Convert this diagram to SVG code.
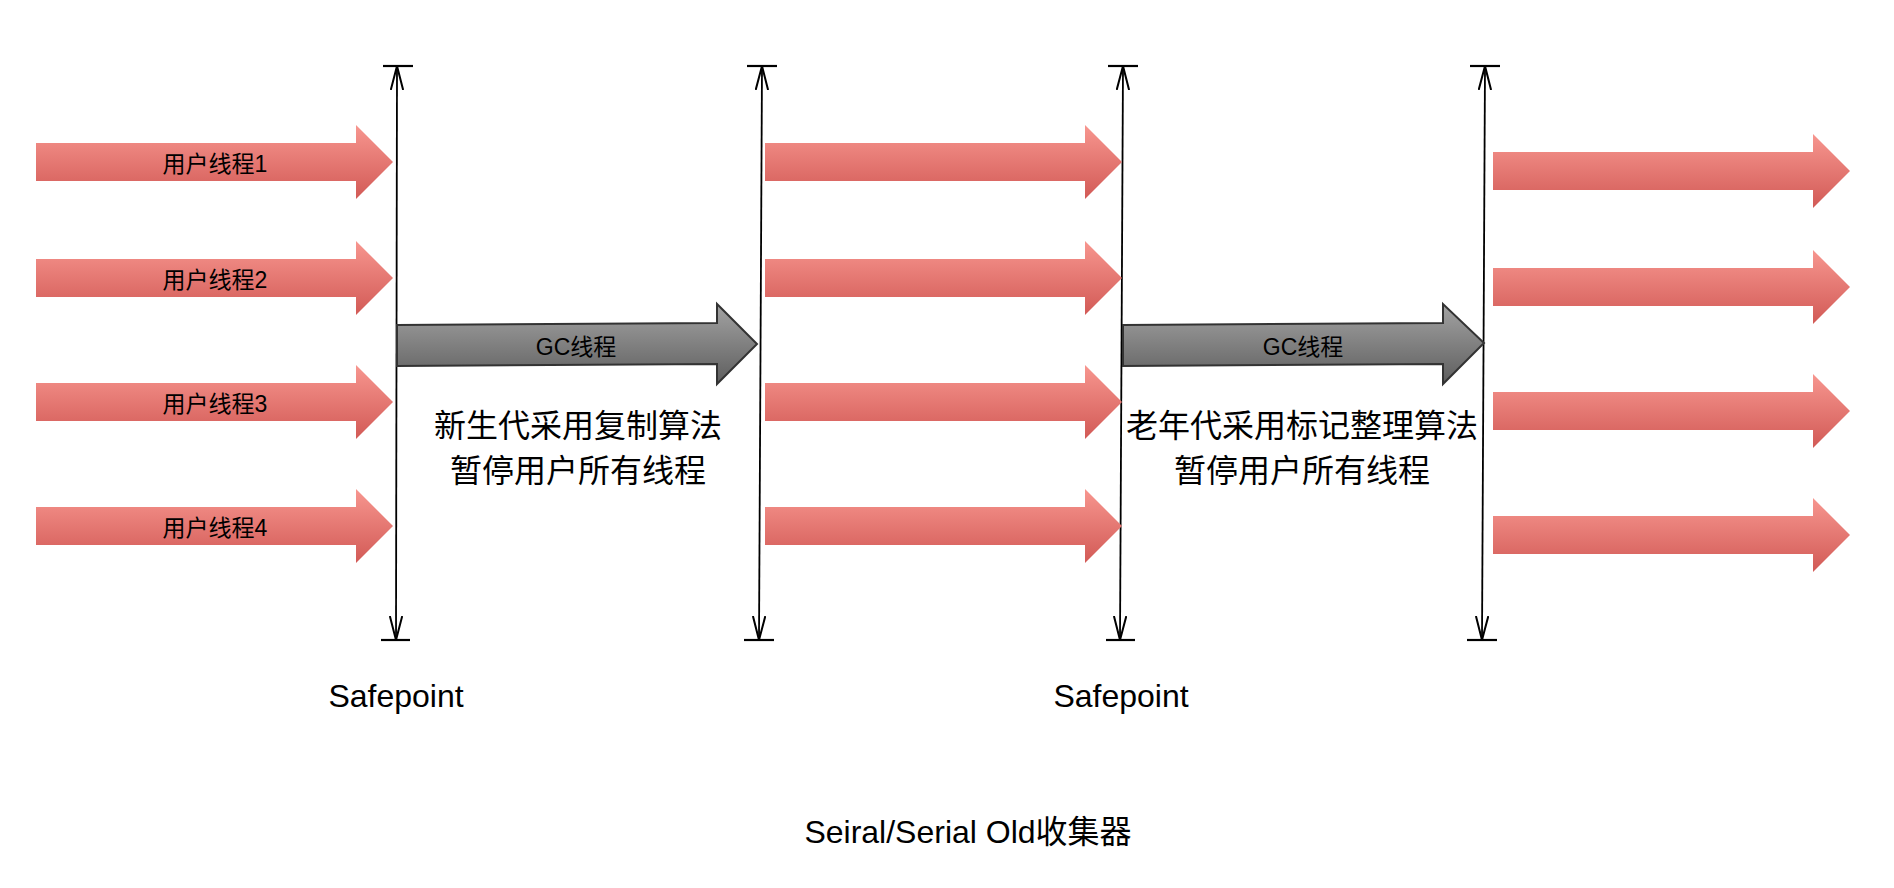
<svg xmlns="http://www.w3.org/2000/svg" xmlns:xlink="http://www.w3.org/1999/xlink" width="1894" height="888" viewBox="0 0 1894 888">
<style>
  .lbl { font-family: "Liberation Sans", "Noto Sans CJK SC", sans-serif; font-size: 23px; fill: #000; text-anchor: middle; }
  .big { font-family: "Liberation Sans", "Noto Sans CJK SC", sans-serif; font-size: 32px; fill: #000; text-anchor: middle; }
  .red { fill: url(#redGrad); }
  .gc { fill: url(#grayGrad); stroke: #333333; stroke-width: 2; stroke-linejoin: miter; }
  .sp { stroke: #000; stroke-width: 1.8; fill: none; marker-start: url(#open); marker-end: url(#open); }
  .cap { stroke: #000; stroke-width: 2.2; }
</style>
<defs>
  <linearGradient id="redGrad" x1="0" y1="0" x2="0" y2="1">
    <stop offset="0" stop-color="#F7968F"/>
    <stop offset="1" stop-color="#D25A56"/>
  </linearGradient>
  <linearGradient id="grayGrad" x1="0" y1="0" x2="0" y2="1">
    <stop offset="0" stop-color="#A3A3A3"/>
    <stop offset="1" stop-color="#5E5E5E"/>
  </linearGradient>
  <path id="uarrow" d="M0,-19 H320 V-37 L357,0 L320,37 V19 H0 Z"/>
  <marker id="open" viewBox="0 0 24 14" refX="24" refY="7" markerWidth="24" markerHeight="14" markerUnits="userSpaceOnUse" orient="auto-start-reverse">
    <path d="M0,0.8 L24,7 L0,13.2" fill="none" stroke="#000" stroke-width="2"/>
  </marker>
</defs>
<rect width="1894" height="888" fill="#ffffff"/>

<g id="connectors">
  <line class="sp" x1="397" y1="66" x2="396" y2="640"/>
  <line class="cap" x1="383" y1="66" x2="413" y2="66"/>
  <line class="cap" x1="381" y1="640" x2="410" y2="640"/>

  <line class="sp" x1="762" y1="66" x2="759" y2="640"/>
  <line class="cap" x1="747" y1="66" x2="777" y2="66"/>
  <line class="cap" x1="744" y1="640" x2="774" y2="640"/>

  <line class="sp" x1="1123" y1="66" x2="1120" y2="640"/>
  <line class="cap" x1="1108" y1="66" x2="1138" y2="66"/>
  <line class="cap" x1="1106" y1="640" x2="1135" y2="640"/>

  <line class="sp" x1="1485" y1="66" x2="1482" y2="640"/>
  <line class="cap" x1="1470" y1="66" x2="1500" y2="66"/>
  <line class="cap" x1="1467" y1="640" x2="1497" y2="640"/>
</g>

<g id="thread1"><use xlink:href="#uarrow" class="red" transform="translate(36,162)"/><text class="lbl" x="215" y="172">用户线程1</text></g>
<g id="thread2"><use xlink:href="#uarrow" class="red" transform="translate(36,278)"/><text class="lbl" x="215" y="288">用户线程2</text></g>
<g id="thread3"><use xlink:href="#uarrow" class="red" transform="translate(36,402)"/><text class="lbl" x="215" y="412">用户线程3</text></g>
<g id="thread4"><use xlink:href="#uarrow" class="red" transform="translate(36,526)"/><text class="lbl" x="215" y="536">用户线程4</text></g>

<g id="mid1"><use xlink:href="#uarrow" class="red" transform="translate(765,162)"/></g>
<g id="mid2"><use xlink:href="#uarrow" class="red" transform="translate(765,278)"/></g>
<g id="mid3"><use xlink:href="#uarrow" class="red" transform="translate(765,402)"/></g>
<g id="mid4"><use xlink:href="#uarrow" class="red" transform="translate(765,526)"/></g>

<g id="right1"><use xlink:href="#uarrow" class="red" transform="translate(1493,171)"/></g>
<g id="right2"><use xlink:href="#uarrow" class="red" transform="translate(1493,287)"/></g>
<g id="right3"><use xlink:href="#uarrow" class="red" transform="translate(1493,411)"/></g>
<g id="right4"><use xlink:href="#uarrow" class="red" transform="translate(1493,535)"/></g>

<g id="gc1">
  <polygon class="gc" points="397,325 717,323 717,304 757,344 717,384 717,364 397,366"/>
  <text class="lbl" x="576" y="355">GC线程</text>
</g>
<g id="gc2">
  <polygon class="gc" points="1123,325 1443,323 1443,304 1484,343 1443,384 1443,364 1123,366"/>
  <text class="lbl" x="1303" y="355">GC线程</text>
</g>

<g id="note1">
  <text class="big" x="578" y="437">新生代采用复制算法</text>
  <text class="big" x="578" y="482">暂停用户所有线程</text>
</g>
<g id="note2">
  <text class="big" x="1302" y="437">老年代采用标记整理算法</text>
  <text class="big" x="1302" y="482">暂停用户所有线程</text>
</g>

<g id="safepoint1"><text class="big" x="396" y="707">Safepoint</text></g>
<g id="safepoint2"><text class="big" x="1121" y="707">Safepoint</text></g>

<g id="title"><text class="big" x="968" y="843">Seiral/Serial Old收集器</text></g>
</svg>
